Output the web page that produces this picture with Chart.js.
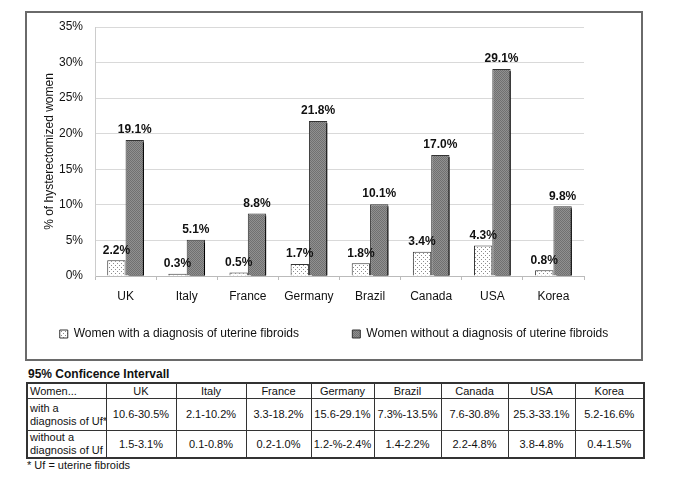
<!DOCTYPE html>
<html>
<head>
<meta charset="utf-8">
<script src="https://cdn.jsdelivr.net/npm/chart.js@4"></script>
<style>
  body { margin: 0; background: #fff; width: 685px; height: 477px; position: relative; overflow: hidden;
         font-family: "Liberation Sans", Arial, sans-serif; color: #111; }
  #box { position: absolute; left: 25px; top: 11px; width: 614px; height: 346px; border: 2px solid #6a6a6a; }
  #box canvas { display: block; }
  #ciTitle { position: absolute; left: 28px; top: 367px; font-size: 12px; font-weight: bold; }
  #ci { position: absolute; left: 26px; top: 382px; width: 617px; border-collapse: collapse; table-layout: fixed;
        font-size: 11px; border: 2px solid #333; }
  #ci td { border: 1px solid #333; text-align: center; vertical-align: middle; padding: 0 1px; line-height: 13px;
           white-space: nowrap; overflow: hidden; }
  #ci td.first { text-align: left; padding-left: 2px; }
  #ci tr.h td { height: 14px; }
  #ci tr.r1 td { height: 31px; }
  #ci tr.r2 td { height: 26px; }
  #foot { position: absolute; left: 27px; top: 459px; font-size: 11px; }
</style>
</head>
<body>
<div id="box"><canvas id="chart" width="614" height="346"></canvas></div>
<div id="ciTitle">95% Conficence Intervall</div>
<table id="ci"></table>
<div id="foot">* Uf = uterine fibroids</div>
<script>
// chart data
const countries = ['UK', 'Italy', 'France', 'Germany', 'Brazil', 'Canada', 'USA', 'Korea'];
const withUf = [2.2, 0.3, 0.5, 1.7, 1.8, 3.4, 4.3, 0.8];
const withoutUf = [19.1, 5.1, 8.8, 21.8, 10.1, 17.0, 29.1, 9.8];
const seriesNames = ['Women with a diagnosis of uterine fibroids', 'Women without a diagnosis of uterine fibroids'];
const yTicks = [0, 5, 10, 15, 20, 25, 30, 35];

// confidence interval table
const ciHeader = 'Women...';
const ciRowLabels = ['with a<br>diagnosis of Uf*', 'without a<br>diagnosis of Uf'];
const ciWith = ['10.6-30.5%', '2.1-10.2%', '3.3-18.2%', '15.6-29.1%', '7.3%-13.5%', '7.6-30.8%', '25.3-33.1%', '5.2-16.6%'];
const ciWithout = ['1.5-3.1%', '0.1-0.8%', '0.2-1.0%', '1.2-%-2.4%', '1.4-2.2%', '2.2-4.8%', '3.8-4.8%', '0.4-1.5%'];

const colWidths = [79, 70, 70, 65, 63, 67, 67, 67, 69];

function buildTable() {
  var t = document.getElementById('ci');
  var html = '<colgroup>' + colWidths.map(function (w) { return '<col style="width:' + w + 'px">'; }).join('') + '</colgroup>';
  html += '<tr class="h"><td class="first">' + ciHeader + '</td>' + countries.map(function (c) { return '<td>' + c + '</td>'; }).join('') + '</tr>';
  html += '<tr class="r1"><td class="first">' + ciRowLabels[0] + '</td>' + ciWith.map(function (c) { return '<td>' + c + '</td>'; }).join('') + '</tr>';
  html += '<tr class="r2"><td class="first">' + ciRowLabels[1] + '</td>' + ciWithout.map(function (c) { return '<td>' + c + '</td>'; }).join('') + '</tr>';
  t.innerHTML = html;
}
buildTable();

function makePattern(size, bg, fg, dots) {
  var c = document.createElement('canvas');
  c.width = size; c.height = size;
  var x = c.getContext('2d');
  x.fillStyle = bg; x.fillRect(0, 0, size, size);
  x.fillStyle = fg;
  dots.forEach(function (d) { x.fillRect(d[0], d[1], 1, 1); });
  return x.createPattern(c, 'repeat');
}

var ctx0 = document.getElementById('chart').getContext('2d');
var dotFill = makePattern(4, '#ffffff', '#8c8c8c', [[0, 0], [2, 2]]);
var darkFill = makePattern(2, '#909090', '#707070', [[0, 0], [1, 1]]);

// black drop shadow on the dark bars
var barShadow = {
  id: 'barShadow',
  beforeDatasetDraw: function (chart, args) {
    if (args.index !== 1) return;
    chart.ctx.save();
    chart.ctx.shadowColor = '#000';
    chart.ctx.shadowOffsetX = 3;
    chart.ctx.shadowOffsetY = 2;
    chart.ctx.shadowBlur = 0;
  },
  afterDatasetDraw: function (chart, args) {
    if (args.index === 1) chart.ctx.restore();
  }
};

var barLabels = {
  id: 'barLabels',
  afterDatasetsDraw: function (chart) {
    var c = chart.ctx;
    c.save();
    c.font = 'bold 12px "Liberation Sans", Arial, sans-serif';
    c.fillStyle = '#111';
    c.textAlign = 'center';
    c.textBaseline = 'bottom';
    chart.data.datasets.forEach(function (ds, i) {
      chart.getDatasetMeta(i).data.forEach(function (bar, j) {
        c.fillText(ds.data[j].toFixed(1) + '%', bar.x, bar.y - 4);
      });
    });
    c.restore();
  }
};

new Chart(ctx0, {
  type: 'bar',
  data: {
    labels: countries,
    datasets: [
      { label: seriesNames[0], data: withUf, backgroundColor: dotFill, borderColor: '#333', borderWidth: 1,
        categoryPercentage: 0.6, barPercentage: 1.0 },
      { label: seriesNames[1], data: withoutUf, backgroundColor: darkFill, borderColor: '#333', borderWidth: 1,
        categoryPercentage: 0.6, barPercentage: 1.0 }
    ]
  },
  plugins: [barShadow, barLabels],
  options: {
    responsive: false,
    animation: false,
    layout: { padding: { top: 14, left: 0, right: 0, bottom: 9 } },
    plugins: {
      tooltip: { enabled: false },
      legend: {
        position: 'bottom',
        labels: {
          boxWidth: 8, boxHeight: 8, padding: 10, color: '#111',
          font: { size: 12, family: '"Liberation Sans", Arial, sans-serif' },
          generateLabels: function (chart) {
            var items = Chart.defaults.plugins.legend.labels.generateLabels(chart);
            // wide gap between the two legend entries
            items[0].text = items[0].text + '             ';
            return items;
          }
        }
      }
    },
    scales: {
      x: {
        grid: { offset: true, drawOnChartArea: false, drawTicks: true, tickLength: 4, color: '#bbb' },
        border: { color: '#bbb' },
        ticks: { color: '#111', padding: 9, font: { size: 12, family: '"Liberation Sans", Arial, sans-serif' } },
        afterFit: function (s) { s.height = 42; }
      },
      y: {
        min: 0, max: 35,
        afterBuildTicks: function (s) { s.ticks = yTicks.map(function (v) { return { value: v }; }); },
        grid: { color: '#d9d9d9', drawTicks: true, tickLength: 10, tickColor: 'rgba(0,0,0,0)' },
        border: { color: '#ccc' },
        ticks: { color: '#111', padding: 2, callback: function (v) { return v + '%'; },
                 font: { size: 12, family: '"Liberation Sans", Arial, sans-serif' } },
        title: { display: true, text: '% of hysterectomized women', color: '#111', padding: { top: 15, bottom: 0 },
                 font: { size: 12, family: '"Liberation Sans", Arial, sans-serif' } },
        afterFit: function (s) { s.width = 68; }
      },
      yr: {
        position: 'right', display: true,
        grid: { display: false, drawTicks: false },
        border: { display: false },
        ticks: { display: false },
        afterFit: function (s) { s.width = 57; }
      }
    }
  }
});
</script>
</body>
</html>
